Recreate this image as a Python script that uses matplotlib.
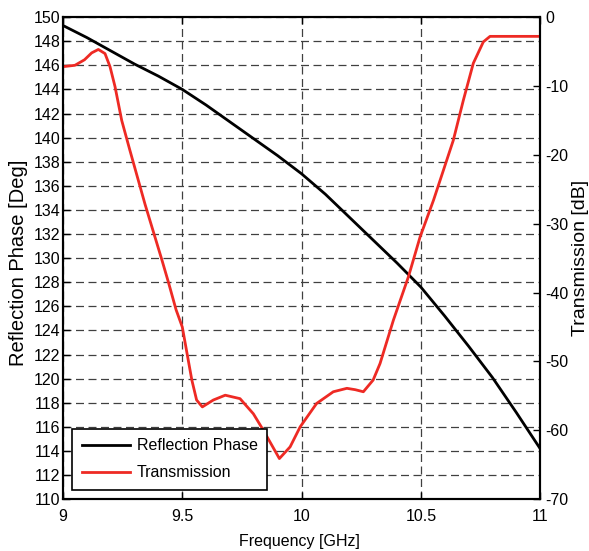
import matplotlib
matplotlib.use("Agg")
import matplotlib.pyplot as plt

plt.rcParams['font.family'] = ['Liberation Sans', 'DejaVu Sans']
plt.rcParams['axes.unicode_minus'] = False

# reflection phase (left axis, deg)
phase_freq = [9.0, 9.1, 9.2, 9.3, 9.4, 9.5, 9.6, 9.7, 9.8, 9.9, 10.0,
              10.1, 10.2, 10.3, 10.4, 10.5, 10.6, 10.7, 10.8, 10.9, 11.0]
phase_deg = [149.3, 148.3, 147.2, 146.1, 145.1, 144.0, 142.7, 141.3, 139.9, 138.5, 137.0,
             135.3, 133.4, 131.5, 129.6, 127.6, 125.2, 122.7, 120.1, 117.2, 114.2]

# transmission (right axis, dB)
trans_freq = [9.0, 9.05, 9.09, 9.12, 9.148, 9.176, 9.197, 9.218, 9.246, 9.28,
              9.344, 9.386, 9.414, 9.441, 9.474, 9.5, 9.54, 9.56, 9.584, 9.63,
              9.68, 9.742, 9.798, 9.84, 9.907, 9.952, 9.994, 10.063, 10.133, 10.19,
              10.225, 10.259, 10.3, 10.329, 10.385, 10.448, 10.497, 10.553, 10.595, 10.636,
              10.678, 10.72, 10.762, 10.79, 11.0]
trans_db = [-7.2, -7.0, -6.2, -5.2, -4.7, -5.3, -7.2, -10.1, -15.0, -19.3,
            -27.2, -32.0, -35.2, -38.4, -42.5, -45.0, -52.7, -55.6, -56.6, -55.6,
            -54.9, -55.4, -57.6, -60.0, -64.1, -62.4, -59.5, -56.1, -54.4, -53.9,
            -54.1, -54.4, -52.7, -50.3, -44.0, -37.7, -31.9, -26.6, -22.2, -17.9,
            -12.1, -6.7, -3.6, -2.8, -2.8]

x_ticks = [9, 9.5, 10, 10.5, 11]
x_labels = ['9', '9.5', '10', '10.5', '11']

fig = plt.figure(figsize=(5.89, 5.51), dpi=100)
ax = fig.add_axes([0.107, 0.094, 0.810, 0.875])
ax2 = ax.twinx()

ax.set_xlim(9, 11)
ax.set_ylim(110, 150)
ax2.set_ylim(-70, 0)
ax.set_xticks(x_ticks)
ax.set_xticklabels(x_labels)
ax.set_yticks(range(110, 151, 2))
ax2.set_yticks(range(-70, 1, 10))

ax.grid(True, linestyle=(0, (6.4, 3.6)), color='#404040', linewidth=0.9)
ax.set_axisbelow(True)

l1, = ax.plot(phase_freq, phase_deg, color='black', linewidth=2, label='Reflection Phase')
l2, = ax2.plot(trans_freq, trans_db, color='#ee2a24', linewidth=2, label='Transmission')

ax.tick_params(axis='x', direction='in', length=5, width=1, labelsize=11.5, top=True, pad=7)
ax.tick_params(axis='y', direction='in', length=5, width=1, labelsize=11.5, pad=2)
ax2.tick_params(direction='in', length=5, width=1, labelsize=11.5, pad=4)
for a in (ax, ax2):
    for s in a.spines.values():
        s.set_linewidth(1.5)
        s.set_color('black')

ax.set_xlabel('Frequency [GHz]', fontsize=11.5)
ax.xaxis.set_label_coords(0.495, -0.087)
ax.xaxis.label.set_va('center')

ax.set_ylabel('Reflection Phase [Deg]', fontsize=14.5)
ax.yaxis.set_label_coords(-0.093, 0.49)
ax.yaxis.label.set_va('center')

ax2.set_ylabel('Transmission [dB]', fontsize=14)
ax2.yaxis.set_label_coords(1.085, 0.5)
ax2.yaxis.label.set_va('center')

leg = ax2.legend(handles=[l1, l2], loc='lower left', bbox_to_anchor=(0.019, 0.019),
                 borderaxespad=0, prop={'size': 11.5}, fancybox=False, framealpha=1,
                 edgecolor='black', handlelength=3.0, handletextpad=0.45,
                 borderpad=0.6, labelspacing=0.75)
leg.get_frame().set_linewidth(1.2)

fig.savefig('out.png', dpi=100)
